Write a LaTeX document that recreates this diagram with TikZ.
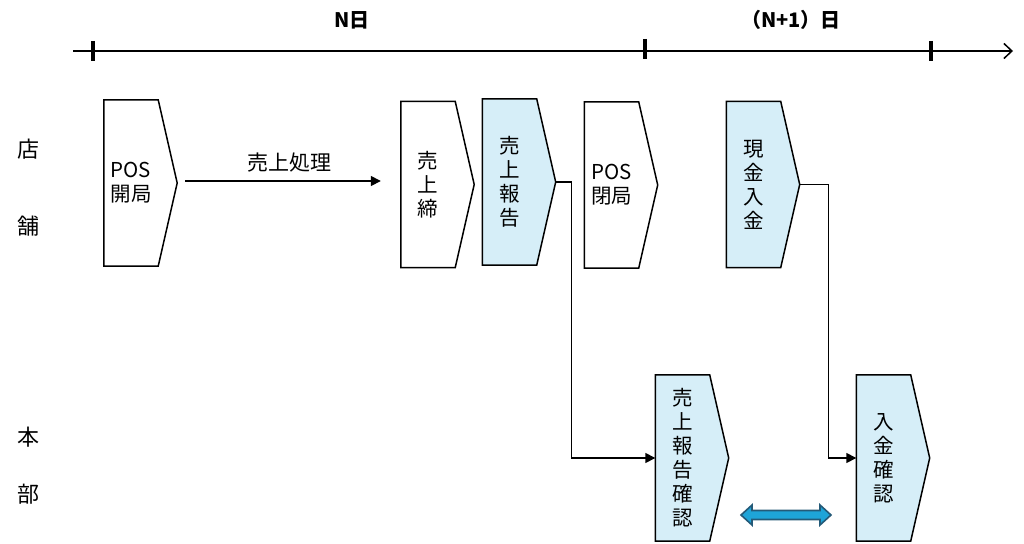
\documentclass[tikz,border=0pt]{standalone}
\usepackage{fontspec}
\setmainfont{Noto Sans CJK JP}
\usetikzlibrary{arrows.meta,calc,backgrounds}
\definecolor{lightblue}{RGB}{214,238,248}
\definecolor{dblfill}{RGB}{30,164,216}
\definecolor{dblline}{RGB}{36,90,120}
\tikzset{
  bodybox/.style={minimum width=54pt,minimum height=166pt,inner sep=0pt,align=center,
    font=\fontsize{20.5}{24}\selectfont},
  boxline/.style={draw=black,line width=1.5pt,line join=miter},
  conn/.style={draw=black,line width=1.5pt,-{Triangle[length=10pt,width=10pt]}},
  timeline/.style={draw=black,line width=1.5pt,-{Straight Barb[length=8pt,width=15pt,line width=1.5pt]}},
  tickmark/.style={draw=black,line width=4pt},
  sidelabel/.style={font=\fontsize{22}{24}\selectfont,inner sep=0pt},
  daylabel/.style={font=\fontsize{20}{22}\selectfont\bfseries,inner sep=0pt}
}
\newcommand\flowbox[5]{%
  \node[bodybox] (#1) at (#3,#4) {#5};
  \coordinate (#1-tip) at ($(#1.east)+(19,0)$);
  \begin{scope}[on background layer]
    \filldraw[boxline,fill=#2] (#1.north west) -- (#1.north east) -- (#1-tip)
      -- (#1.south east) -- (#1.south west) -- cycle;
  \end{scope}
}
\begin{document}
\begin{tikzpicture}[x=1pt,y=-1pt]
\useasboundingbox (0,0) rectangle (1024,543);
% timeline
\coordinate (tl-start) at (73,51);
\coordinate (tl-end) at (1013,51);
\draw[timeline] (tl-start) -- (tl-end);
\draw[tickmark] (93,41) -- (93,61);
\draw[tickmark] (645,39) -- (645,59);
\draw[tickmark] (931,41) -- (931,61);
\node[daylabel] (dayN) at (352,20) {N日};
\node[daylabel] (dayN1) at (791,20) {（N+1）日};
% side labels
\node[sidelabel] (l1) at (28,149) {店};
\node[sidelabel] (l2) at (28,226) {舗};
\node[sidelabel] (l3) at (28,437) {本};
\node[sidelabel] (l4) at (28,494) {部};
% boxes
\flowbox{posopen}{white}{131}{183}{POS\\開局}
\flowbox{shime}{white}{428}{184.5}{売\\上\\締}
\flowbox{report}{lightblue}{509.5}{182}{売\\上\\報\\告}
\flowbox{posclose}{white}{611.5}{185}{POS\\閉局}
\flowbox{cash}{lightblue}{753.5}{184.5}{現\\金\\入\\金}
\flowbox{check}{lightblue}{682.5}{458}{売\\上\\報\\告\\確\\認}
\flowbox{nyukin}{lightblue}{883.5}{458}{入\\金\\確\\認}
% connectors
\draw[conn,shorten <=8pt,shorten >=20pt] ($(posopen-tip)+(0,-2)$) -- ($(posopen-tip -| shime.west)+(0,-2)$)
  node[midway,above=8pt,font=\fontsize{21}{22}\selectfont,inner sep=0pt] (proc) {売上処理};
\draw[conn] (report-tip) -- ++(16,0) |- (check.west);
\draw[conn] (cash-tip) -- ++(29,0) |- (nyukin.west);
% double arrow
\filldraw[fill=dblfill,draw=dblline,line width=1.6pt,line join=miter]
  (741,515) -- (752,505) -- (752,510.5) -- (820,510.5) -- (820,505) -- (831,515)
  -- (820,525) -- (820,519.5) -- (752,519.5) -- (752,525) -- cycle;
\end{tikzpicture}
\end{document}
